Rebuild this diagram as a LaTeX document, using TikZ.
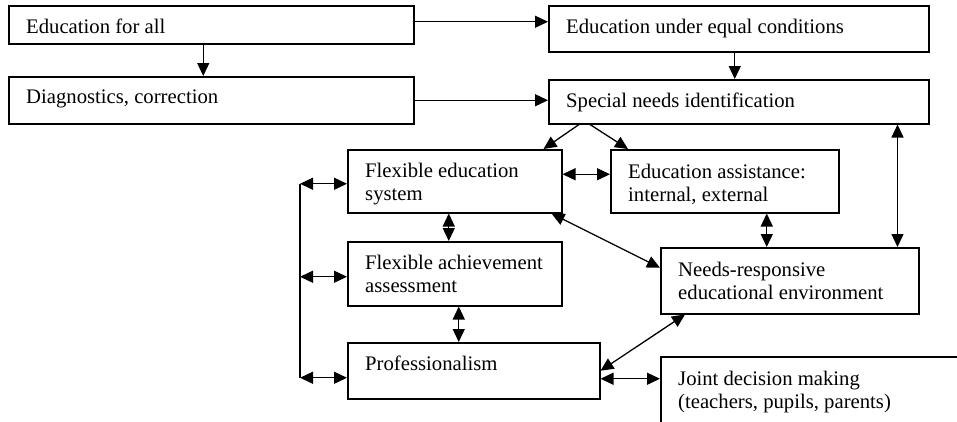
\documentclass[tikz,border=0pt]{standalone}
\usepackage{fontspec}
\setmainfont{Liberation Serif}
\usetikzlibrary{arrows.meta}
\begin{document}
\begin{tikzpicture}[x=1pt,y=-1pt,
  box/.style={draw, line width=1.5pt, inner sep=0pt, anchor=north west},
  txt/.style={anchor=base west, inner sep=0pt, font=\fontsize{20.7}{23}\selectfont},
  arr/.style={line width=1.3pt, -{Triangle[length=13pt,width=12pt]}},
  darr/.style={line width=1.3pt, {Triangle[length=13pt,width=12pt]}-{Triangle[length=13pt,width=12pt]}},
  conn/.style={line width=1.3pt}]
\clip (0,0) rectangle (957,421);
\fill[white] (0,0) rectangle (957,421);
% boxes
\node[box, minimum width=405pt, minimum height=38pt] (b1) at (8,5) {};
\node[box, minimum width=405pt, minimum height=47pt] (b2) at (8,76) {};
\node[box, minimum width=380pt, minimum height=46pt] (b3) at (548,5) {};
\node[box, minimum width=380pt, minimum height=44pt] (b4) at (548,79) {};
\node[box, minimum width=214pt, minimum height=63pt] (fe) at (347,149) {};
\node[box, minimum width=228pt, minimum height=63pt] (ea) at (610,149) {};
\node[box, minimum width=214pt, minimum height=64pt] (fa) at (347,241) {};
\node[box, minimum width=258pt, minimum height=66pt] (ne) at (660,247) {};
\node[box, minimum width=252pt, minimum height=56pt] (pr) at (347,342) {};
\node[box, minimum width=330pt, minimum height=90pt] (jd) at (660,356) {};
% texts
\node[txt] (t1) at ([xshift=18pt,yshift=-28pt]b1.north west) {Education for all};
\node[txt] (t2) at ([xshift=18pt,yshift=-27pt]b2.north west) {Diagnostics, correction};
\node[txt] (t3) at ([xshift=18pt,yshift=-28pt]b3.north west) {Education under equal conditions};
\node[txt] (t4) at ([xshift=18pt,yshift=-28pt]b4.north west) {Special needs identification};
\node[txt] (t5) at ([xshift=18pt,yshift=-28pt]fe.north west) {\begin{tabular}[t]{@{}l@{}}Flexible education\\system\end{tabular}};
\node[txt] (t6) at ([xshift=18pt,yshift=-29pt]ea.north west) {\begin{tabular}[t]{@{}l@{}}Education assistance:\\internal, external\end{tabular}};
\node[txt] (t7) at ([xshift=18pt,yshift=-28pt]fa.north west) {\begin{tabular}[t]{@{}l@{}}Flexible achievement\\assessment\end{tabular}};
\node[txt] (t8) at ([xshift=18pt,yshift=-29pt]ne.north west) {\begin{tabular}[t]{@{}l@{}}Needs-responsive\\educational environment\end{tabular}};
\node[txt] (t9) at ([xshift=18pt,yshift=-28pt]pr.north west) {Professionalism};
\node[txt] (t10) at ([xshift=18pt,yshift=-29pt]jd.north west) {\begin{tabular}[t]{@{}l@{}}Joint decision making\\(teachers, pupils, parents)\end{tabular}};
% connectors
\draw[arr] ([xshift=-8pt]b1.south) -- ([xshift=-8pt]b2.north);
\draw[arr] ([yshift=3pt]b1.east) -- ([yshift=3pt]b1.east -| b3.west);
\draw[arr] (b2.east) -- (b2.east -| b4.west);
\draw[arr] ([xshift=-4pt]b3.south) -- ([xshift=-4pt]b4.north);
\draw[arr] ([xshift=31pt]b4.south west) -- ([xshift=-19pt]fe.north east);
\draw[arr] ([xshift=42pt]b4.south west) -- ([xshift=18pt]ea.north west);
\coordinate (rx) at ([xshift=-22pt]ne.north east);
\draw[darr] (rx |- b4.south) -- (rx);
\draw[darr] ([yshift=7pt]fe.east) -- ([yshift=7pt]fe.east -| ea.west);
\draw[darr] ([xshift=-6pt]fe.south) -- ([xshift=-6pt]fe.south |- fa.north);
\draw[darr] ([xshift=42pt]ea.south) -- ([xshift=42pt]ea.south |- ne.north);
\draw[darr] ([xshift=-11pt]fe.south east) -- ([yshift=13pt]ne.west);
\draw[darr] ([xshift=4pt]fa.south) -- ([xshift=4pt]fa.south |- pr.north);
\draw[darr] (pr.east) -- ([xshift=25pt]ne.south west);
\draw[darr] ([yshift=-8pt]pr.east) -- ([yshift=-8pt]pr.east -| jd.west);
% left bus
\coordinate (lx) at (300,0);
\coordinate (y1) at ([yshift=-2.5pt]fe.west);
\coordinate (y2) at ([yshift=-3pt]fa.west);
\coordinate (y3) at ([yshift=-7pt]pr.west);
\draw[conn] (lx |- y1) -- (lx |- y3);
\draw[darr] (lx |- y1) -- (y1);
\draw[darr] (lx |- y2) -- (y2);
\draw[darr] (lx |- y3) -- (y3);
\end{tikzpicture}
\end{document}
